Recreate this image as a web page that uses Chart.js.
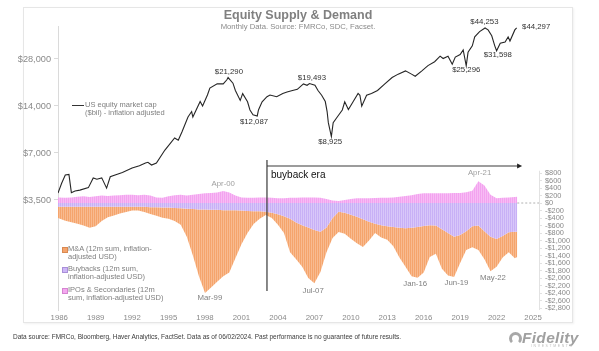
<!DOCTYPE html>
<html>
<head>
<meta charset="utf-8">
<script src="https://cdn.jsdelivr.net/npm/chart.js@4.4.1/dist/chart.umd.min.js"></script>
<style>
body { margin: 0; background: #fff; font-family: "Liberation Sans", Arial, sans-serif; }
#wrap { position: relative; width: 599px; height: 351px; overflow: hidden; }
#frame { position: absolute; left: 23px; top: 7px; width: 548px; height: 314px; border: 1px solid #e6e6e6; box-shadow: 1px 1px 2px rgba(0,0,0,0.06); }
canvas { position: absolute; left: 0; top: 0; }
.t { position: absolute; white-space: nowrap; }
#title { left: 0; width: 596px; top: 8px; text-align: center; font-weight: bold; font-size: 12.5px; line-height: 15px; color: #808080; }
#sub { left: 0; width: 596px; top: 22px; text-align: center; font-size: 7.7px; line-height: 9px; color: #8a8a8a; }
.leg { font-size: 7.5px; line-height: 7.8px; color: #808080; }
.sq { position: absolute; width: 4px; height: 4px; }
#foot { left: 13px; top: 333px; font-size: 6.5px; line-height: 8px; color: #3a3a3a; }
#fid { left: 522px; top: 329px; font-size: 15.5px; line-height: 17px; font-weight: bold; font-style: italic; color: #a0a0a0; letter-spacing: 0.3px; }
#fidsub { left: 531px; top: 344px; font-size: 3.5px; line-height: 4px; letter-spacing: 1.6px; color: #c0c0c0; }
#logo { position: absolute; left: 509px; top: 332px; width: 7px; height: 7px; border: 3px solid #a8a8a8; border-bottom-color: transparent; border-radius: 50%; }
</style>
</head>
<body>
<div id="wrap">
<div id="frame"></div>
<canvas id="chart" width="599" height="351"></canvas>
<div class="t" id="title">Equity Supply &amp; Demand</div>
<div class="t" id="sub">Monthly Data. Source: FMRCo, SDC, Facset.</div>

<div class="sq" style="left:72px;top:105px;width:12px;height:1.3px;background:#333"></div>
<div class="t leg" style="left:85px;top:101px">US equity market cap<br>($bil) - inflation adjusted</div>

<div class="sq" style="left:62px;top:247px;background:#f5a46c;border:0.5px solid #d98a52"></div>
<div class="t leg" style="left:68px;top:245.3px">M&amp;A (12m sum, inflation-<br>adjusted USD)</div>
<div class="sq" style="left:62px;top:267px;background:#cdb6f7;border:0.5px solid #a98fd8"></div>
<div class="t leg" style="left:68px;top:265.3px">Buybacks (12m sum,<br>inflation-adjusted USD)</div>
<div class="sq" style="left:62px;top:288px;background:#f4a8f0;border:0.5px solid #d584d0"></div>
<div class="t leg" style="left:68px;top:286px">IPOs &amp; Secondaries (12m<br>sum, inflation-adjusted USD)</div>

<div class="t" id="foot">Data source: FMRCo, Bloomberg, Haver Analytics, FactSet. Data as of 06/02/2024. Past performance is no guarantee of future results.</div>
<div id="logo"></div>
<div class="t" id="fid">Fidelity</div>
<div class="t" id="fidsub">INVESTMENTS</div>
</div>

<script>
const FONT = '"Liberation Sans", Arial, sans-serif'

// US equity market cap, $bil, inflation adjusted (left log axis)
const capYears = [1985.9, 1986.2, 1986.5, 1986.8, 1987.0, 1987.3, 1987.7, 1988.4, 1988.8, 1989.1,
  1989.5, 1989.9, 1990.2, 1990.6, 1991.2, 1992.0, 1992.6, 1993.1, 1993.3, 1993.6,
  1994.0, 1994.7, 1995.5, 1995.8, 1996.1, 1996.6, 1996.9, 1997.0, 1997.6, 1997.8,
  1998.2, 1998.4, 1999.0, 1999.5, 1999.8, 1999.9, 2000.3, 2000.5, 2000.9, 2001.1,
  2001.5, 2001.7, 2001.95, 2002.3, 2002.4, 2002.7, 2003.1, 2003.35, 2003.9, 2004.4,
  2004.75, 2005.2, 2005.6, 2006.1, 2006.4, 2006.6, 2007.05, 2007.3, 2007.6, 2007.9,
  2008.05, 2008.15, 2008.4, 2008.55, 2008.9, 2009.3, 2009.5, 2009.8, 2010.2, 2010.6,
  2010.75, 2010.9, 2011.3, 2011.7, 2012.2, 2012.8, 2013.4, 2013.9, 2014.5, 2015.0,
  2015.3, 2015.85, 2016.35, 2016.9, 2017.35, 2017.6, 2018.0, 2018.35, 2018.6, 2019.0,
  2019.25, 2019.5, 2019.65, 2020.0, 2020.2, 2020.6, 2021.05, 2021.3, 2021.6, 2021.85,
  2022.0, 2022.3, 2022.7, 2022.95, 2023.1, 2023.5, 2023.65]
const capValues = [3880, 4480, 5060, 5100, 3900, 4000, 4050, 4200, 4840, 4750,
  4850, 4170, 4930, 5060, 5250, 5610, 5800, 6045, 6100, 5860,
  6045, 7310, 8740, 8440, 9545, 11900, 12900, 11900, 14950, 14000,
  16470, 18250, 19400, 19400, 20600, 21290, 19600, 17600, 15200, 16800,
  14900, 13200, 12300, 12087, 13200, 14900, 16050, 16450, 16050, 16850,
  17200, 17600, 17900, 19400, 19000, 19493, 19000, 17600, 16400, 14950,
  12900, 10950, 8925, 10950, 11950, 13200, 14900, 13300, 14950, 16850,
  16400, 13960, 16400, 16850, 17600, 19400, 21300, 22400, 23500, 22400,
  21700, 23500, 25400, 26900, 29200, 28200, 29200, 25900, 28800, 29900,
  32000, 25296, 30900, 34000, 38800, 41900, 44253, 43000, 39400, 34000,
  31598, 35300, 35900, 38800, 36500, 43000, 44297]

// 12m sums, inflation-adjusted USD bil (right axis)
const flowYears = [1985.9, 1986.5, 1987, 1987.5, 1988, 1988.5, 1989, 1989.5, 1990, 1990.5,
  1991, 1991.5, 1992, 1992.5, 1993, 1993.5, 1994, 1994.5, 1995, 1995.5,
  1996, 1996.5, 1997, 1997.5, 1998, 1998.5, 1999, 1999.5, 2000, 2000.5,
  2001, 2001.5, 2002, 2002.5, 2003, 2003.5, 2004, 2004.5, 2005, 2005.5,
  2006, 2006.5, 2007, 2007.5, 2008, 2008.5, 2009, 2009.5, 2010, 2010.5,
  2011, 2011.5, 2012, 2012.5, 2013, 2013.5, 2014, 2014.5, 2015, 2015.5,
  2016, 2016.5, 2017, 2017.5, 2018, 2018.5, 2019, 2019.5, 2020, 2020.5,
  2021, 2021.5, 2022, 2022.5, 2023, 2023.5, 2023.7]
const ipoValues = [150, 140, 150, 170, 180, 160, 180, 200, 190, 200,
  210, 220, 220, 210, 220, 200, 150, 140, 180, 210,
  220, 200, 220, 240, 260, 270, 280, 320, 280, 200,
  150, 140, 140, 150, 150, 140, 130, 130, 140, 140,
  150, 150, 150, 140, 110, 70, 55, 80, 110, 125,
  130, 130, 135, 140, 140, 150, 170, 190, 210, 240,
  260, 260, 260, 260, 260, 265, 270, 290, 330, 580,
  470, 220, 130, 140, 150, 160, 170]
const buybackValues = [-100, -100, -100, -100, -100, -100, -100, -100, -100, -100,
  -100, -100, -100, -100, -100, -110, -110, -120, -120, -130,
  -140, -150, -160, -170, -170, -180, -180, -190, -190, -190,
  -200, -210, -220, -220, -230, -260, -300, -350, -420, -520,
  -590, -650, -720, -765, -650, -400, -230, -260, -310, -365,
  -430, -500, -550, -590, -620, -640, -660, -675, -660, -640,
  -610, -590, -600, -700, -800, -900, -850, -750, -620, -600,
  -750, -900, -960, -880, -780, -765, -765]
const maValues = [-300, -370, -410, -450, -500, -560, -520, -380, -280, -230,
  -180, -140, -100, -100, -140, -180, -230, -270, -300, -350,
  -440, -750, -1240, -1780, -2230, -2070, -1920, -1760, -1660, -1280,
  -900, -590, -340, -200, -90, -140, -280, -450, -890, -980,
  -1110, -1350, -1420, -1075, -660, -535, -545, -560, -640, -705,
  -745, -500, -250, -330, -360, -510, -790, -1025, -1290, -1350,
  -1240, -850, -750, -1050, -1130, -1070, -750, -500, -560, -650,
  -750, -920, -740, -570, -530, -705, -675]

const xTicks = [1986, 1989, 1992, 1995, 1998, 2001, 2004, 2007, 2010, 2013, 2016, 2019, 2022, 2025]
const capTicks = [3500, 7000, 14000, 28000]
const flowTicks = [800, 600, 400, 200, 0, -200, -400, -600, -800, -1000, -1200, -1400, -1600,
  -1800, -2000, -2200, -2400, -2600, -2800]

// annotation texts placed in data space
const capNotes = [
  ['$21,290', 1999.97, 23100, 'center'],
  ['$12,087', 2002.03, 11060, 'center'],
  ['$19,493', 2006.8, 21160, 'center'],
  ['$8,925', 2008.3, 8230, 'center'],
  ['$25,296', 2019.5, 23810, 'center'],
  ['$44,253', 2021.0, 48300, 'center'],
  ['$31,598', 2022.1, 29700, 'center'],
  ['$44,297', 2024.1, 44880, 'left']
]
const flowNotes = [
  ['Apr-00', 1999.5, 507, '#a0a0a0'],
  ['Apr-21', 2020.6, 800, '#a0a0a0'],
  ['Mar-99', 1998.4, -2533, '#808080'],
  ['Jul-07', 2006.9, -2347, '#808080'],
  ['Jan-16', 2015.3, -2160, '#808080'],
  ['Jun-19', 2018.7, -2133, '#808080'],
  ['May-22', 2021.7, -2000, '#808080']
]
const era = { start: 2003.1, end: 2024.1, top: 1147, bottom: -2347, arrow: 987, label: 733 }

const pts = (xs, ys) => xs.map((x, i) => ({ x: x, y: ys[i] }))

const canvas = document.getElementById('chart')
const ctx = canvas.getContext('2d')

function stripes(base, light) {
  const c = document.createElement('canvas')
  c.width = 2
  c.height = 1
  const g = c.getContext('2d')
  g.fillStyle = base
  g.fillRect(0, 0, 2, 1)
  g.fillStyle = light
  g.fillRect(1, 0, 1, 1)
  return ctx.createPattern(c, 'repeat')
}

const notes = {
  id: 'notes',
  afterDatasetsDraw(chart) {
    const c = chart.ctx
    const { x, yL, yR } = chart.scales
    c.save()
    // right axis line, only over the flow range
    c.strokeStyle = '#e2e2e2'
    c.lineWidth = 1
    c.beginPath()
    c.moveTo(yR.left + 0.5, yR.getPixelForValue(860))
    c.lineTo(yR.left + 0.5, chart.chartArea.bottom)
    c.stroke()

    // buyback era marker
    const x0 = x.getPixelForValue(era.start)
    const x1 = x.getPixelForValue(era.end)
    const ya = yR.getPixelForValue(era.arrow)
    c.strokeStyle = '#3a3a3a'
    c.lineWidth = 1.2
    c.beginPath()
    c.moveTo(x0, yR.getPixelForValue(era.top))
    c.lineTo(x0, yR.getPixelForValue(era.bottom))
    c.moveTo(x0, ya)
    c.lineTo(x1 - 4, ya)
    c.stroke()
    c.fillStyle = '#222'
    c.beginPath()
    c.moveTo(x1, ya)
    c.lineTo(x1 - 5, ya - 2.5)
    c.lineTo(x1 - 5, ya + 2.5)
    c.closePath()
    c.fill()
    c.font = '10px ' + FONT
    c.textBaseline = 'middle'
    c.textAlign = 'left'
    c.fillStyle = '#111'
    c.fillText('buyback era', x0 + 4, yR.getPixelForValue(era.label))

    c.font = '7.8px ' + FONT
    c.fillStyle = '#333'
    capNotes.forEach(n => {
      c.textAlign = n[3]
      c.fillText(n[0], x.getPixelForValue(n[1]), yL.getPixelForValue(n[2]))
    })
    c.textAlign = 'center'
    flowNotes.forEach(n => {
      c.fillStyle = n[3]
      c.fillText(n[0], x.getPixelForValue(n[1]), yR.getPixelForValue(n[2]))
    })
    c.restore()
  }
}

Chart.defaults.font.family = FONT

const lastYear = flowYears[flowYears.length - 1]

new Chart(ctx, {
  type: 'line',
  data: {
    datasets: [
      {
        label: 'US equity market cap ($bil) - inflation adjusted',
        data: pts(capYears, capValues),
        yAxisID: 'yL',
        borderColor: '#262626',
        borderWidth: 1.1,
        pointRadius: 0,
        fill: false
      },
      {
        label: 'IPOs & Secondaries',
        data: pts(flowYears, ipoValues),
        yAxisID: 'yR',
        stack: 'supply',
        fill: 'origin',
        backgroundColor: stripes('#f3a2ef', '#f7bcf4'),
        borderWidth: 0,
        pointRadius: 0
      },
      {
        label: 'Buybacks',
        data: pts(flowYears, buybackValues),
        yAxisID: 'yR',
        stack: 'demand',
        fill: 'origin',
        backgroundColor: stripes('#c8b0f6', '#d8c7f9'),
        borderWidth: 0,
        pointRadius: 0
      },
      {
        label: 'M&A',
        data: pts(flowYears, maValues),
        yAxisID: 'yR',
        stack: 'demand',
        fill: '-1',
        backgroundColor: stripes('#f5a46c', '#f8bb90'),
        borderWidth: 0,
        pointRadius: 0
      },
      {
        label: 'zero',
        data: [{ x: lastYear, y: 0 }, { x: 2025.49, y: 0 }],
        yAxisID: 'yR',
        stack: 'zero',
        borderColor: '#b0b0b0',
        borderWidth: 1,
        borderDash: [2, 2],
        pointRadius: 0,
        fill: false
      }
    ]
  },
  options: {
    responsive: false,
    animation: false,
    layout: { padding: { top: 26, bottom: 0, left: 0, right: 0 } },
    plugins: { legend: { display: false }, tooltip: { enabled: false } },
    scales: {
      x: {
        type: 'linear',
        min: 1985.9,
        max: 2025.49,
        grid: { display: false, drawTicks: false },
        border: { display: false },
        ticks: { color: '#8a8a8a', font: { size: 7.8 }, padding: 3, maxRotation: 0, autoSkip: false, callback: v => String(v) },
        afterBuildTicks: s => { s.ticks = xTicks.map(v => ({ value: v })) },
        afterFit: s => { s.height = 41 }
      },
      yL: {
        type: 'logarithmic',
        position: 'left',
        min: 691,
        max: 45550,
        grid: { drawOnChartArea: false, drawTicks: true, tickLength: 4, color: '#dadada' },
        border: { display: true, color: '#dadada' },
        ticks: { color: '#8a8a8a', font: { size: 9.2 }, padding: 3, autoSkip: false, callback: v => '$' + v.toLocaleString('en-US') },
        afterBuildTicks: s => { s.ticks = capTicks.map(v => ({ value: v })) },
        afterFit: s => { s.width = 58 }
      },
      yR: {
        type: 'linear',
        position: 'right',
        min: -2853,
        max: 4720,
        stacked: true,
        grid: { drawOnChartArea: false, drawTicks: true, tickLength: 3, color: '#e2e2e2' },
        border: { display: false },
        ticks: {
          color: '#8a8a8a', font: { size: 7.4 }, padding: 3, autoSkip: false,
          callback: v => (v < 0 ? '-$' : '$') + Math.abs(v).toLocaleString('en-US')
        },
        afterBuildTicks: s => { s.ticks = flowTicks.map(v => ({ value: v })) },
        afterFit: s => { s.width = 60 }
      }
    }
  },
  plugins: [notes]
})
</script>
</body>
</html>
